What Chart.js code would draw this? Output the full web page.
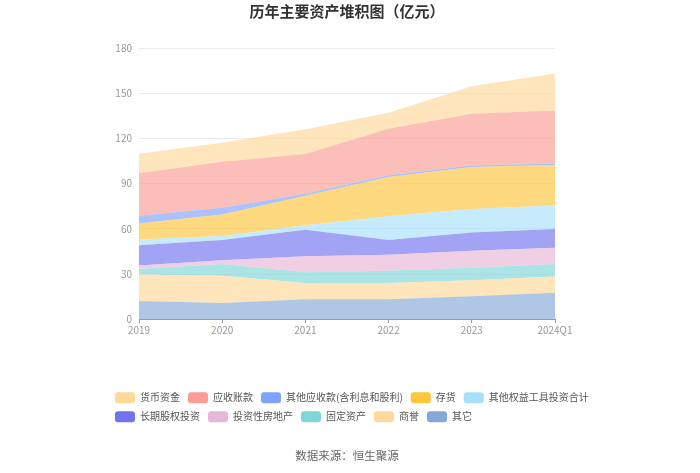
<!DOCTYPE html>
<html>
<head>
<meta charset="utf-8">
<script src="https://cdn.jsdelivr.net/npm/chart.js@4"></script>
<style>
html,body{margin:0;padding:0;background:#fff;}
#wrap{width:700px;height:473px;position:relative;}
</style>
</head>
<body>
<div id="wrap"><canvas id="c"></canvas></div>
<script>
// ---- data (亿元) ----
const categories = ['2019', '2020', '2021', '2022', '2023', '2024Q1'];
const cash               = [13.0, 12.6, 16.4, 10.6, 18.3, 24.4]; // 货币资金
const receivables        = [28.2, 30.6, 26.4, 30.9, 34.3, 35.2]; // 应收账款
const otherReceivables   = [5.1, 4.4, 1.3, 1.2, 1.0, 1.0];       // 其他应收款(含利息和股利)
const inventory          = [10.6, 14.2, 19.5, 25.9, 27.9, 26.9]; // 存货
const otherEquityInv     = [3.8, 2.8, 3.1, 15.9, 15.5, 15.7];    // 其他权益工具投资合计
const longTermEquity     = [13.5, 13.3, 17.5, 9.8, 12.2, 12.4];  // 长期股权投资
const investmentProperty = [2.2, 2.5, 10.6, 10.6, 11.3, 10.7];   // 投资性房地产
const fixedAssets        = [3.7, 7.9, 7.1, 8.0, 8.2, 8.4];       // 固定资产
const goodwill           = [17.7, 18.0, 10.8, 10.8, 10.6, 10.8]; // 商誉
const others             = [12.0, 10.8, 13.3, 13.3, 15.3, 17.5]; // 其它
const yTicks = [0, 30, 60, 90, 120, 150, 180];

// stack order: bottom -> top
const seriesNames = ['其它', '商誉', '固定资产', '投资性房地产', '长期股权投资', '其他权益工具投资合计', '存货', '其他应收款(含利息和股利)', '应收账款', '货币资金'];
const seriesData  = [others, goodwill, fixedAssets, investmentProperty, longTermEquity, otherEquityInv, inventory, otherReceivables, receivables, cash];
const seriesColors = ['#86a8d8', '#ffd89a', '#80d6d8', '#e8b6d8', '#7274ee', '#a8e0fc', '#ffc53d', '#7fa2ff', '#fb9d94', '#ffd89a'];

function withAlpha(hex, a) {
  const n = parseInt(hex.slice(1), 16);
  return 'rgba(' + ((n >> 16) & 255) + ',' + ((n >> 8) & 255) + ',' + (n & 255) + ',' + a + ')';
}

Chart.defaults.font.family = "'Noto Sans CJK SC', 'Noto Sans', sans-serif";

const datasets = seriesNames.map((name, i) => ({
  label: name,
  data: seriesData[i],
  backgroundColor: seriesColors[i],
  borderColor: 'rgba(0,0,0,0)',
  borderWidth: 0,
  pointRadius: 0,
  pointHoverRadius: 0,
  tension: 0,
  fill: {
    target: i === 0 ? 'origin' : '-1',
    above: withAlpha(seriesColors[i], 0.66),
    below: withAlpha(seriesColors[i], 0.66)
  }
}));

new Chart(document.getElementById('c'), {
  type: 'line',
  data: { labels: categories, datasets: datasets },
  options: {
    responsive: true,
    maintainAspectRatio: false,
    animation: false,
    layout: { padding: { left: 107, right: 50, top: 0, bottom: 0 } },
    plugins: {
      title: {
        display: true,
        text: '历年主要资产堆积图（亿元）',
        fullSize: false,
        color: '#333',
        font: { size: 15, weight: 'bold' },
        padding: { top: 2, bottom: 28 }
      },
      subtitle: {
        display: true,
        position: 'bottom',
        text: '数据来源：恒生聚源',
        fullSize: false,
        color: '#666',
        font: { size: 11.5, weight: 'normal' },
        padding: { top: 17, bottom: 10 }
      },
      legend: {
        position: 'bottom',
        align: 'start',
        labels: {
          boxWidth: 20,
          boxHeight: 11,
          padding: 8,
          color: '#555',
          font: { size: 10 },
          useBorderRadius: true,
          borderRadius: 3,
          sort: (a, b) => b.datasetIndex - a.datasetIndex
        }
      },
      tooltip: { enabled: false }
    },
    scales: {
      x: {
        type: 'category',
        offset: false,
        grid: { drawOnChartArea: false, drawTicks: true, tickLength: 4, color: '#8e9cb8' },
        border: { display: true, color: '#8e9cb8', width: 1 },
        ticks: { color: '#999', font: { size: 10 }, padding: 1, maxRotation: 0, autoSkip: false },
        afterFit: (s) => { s.height = 65; }
      },
      y: {
        stacked: true,
        min: 0,
        max: 180,
        afterBuildTicks: (s) => { s.ticks = yTicks.map(v => ({ value: v })); },
        grid: { color: '#e8ebf2', drawTicks: false },
        border: { display: false },
        ticks: { color: '#999', font: { size: 10 }, padding: 7 },
        afterFit: (s) => { s.width = 32; }
      },
      yR: {
        position: 'right',
        display: true,
        grid: { display: false },
        border: { display: false },
        ticks: { display: false },
        afterFit: (s) => { s.width = 95; }
      }
    }
  }
});
</script>
</body>
</html>
